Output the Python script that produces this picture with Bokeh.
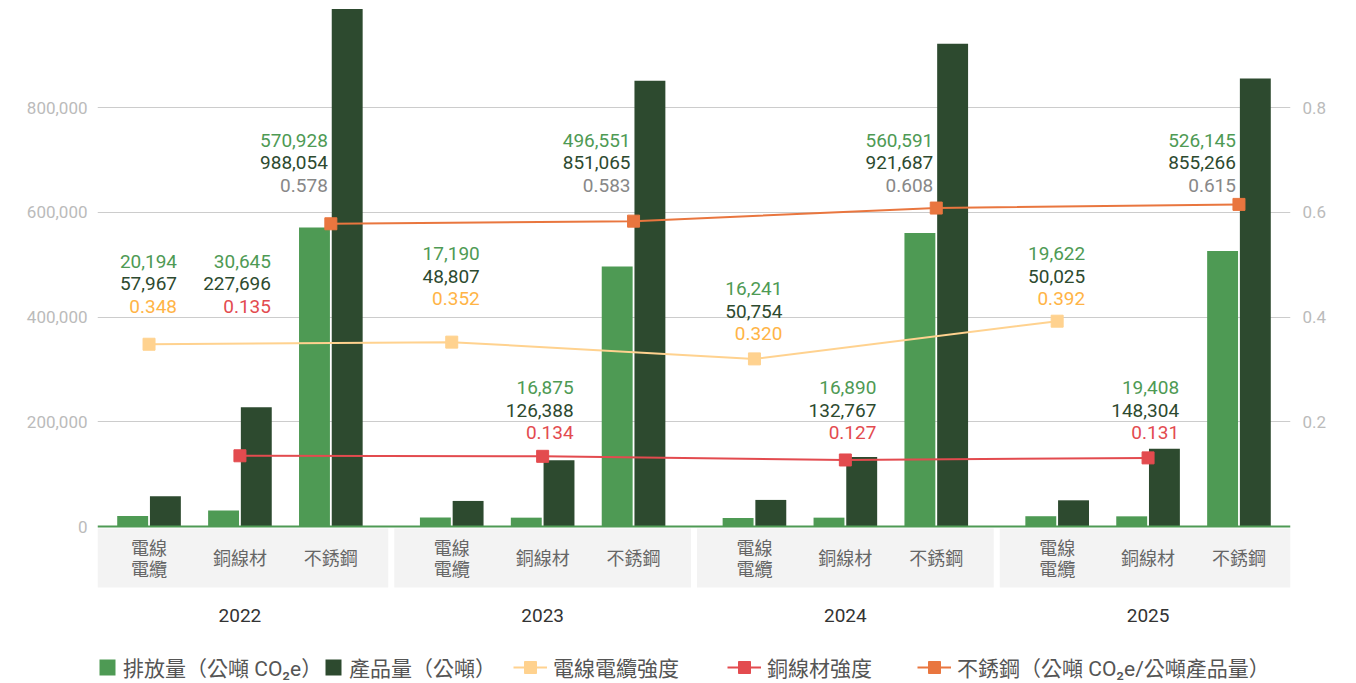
from bokeh.plotting import figure
from bokeh.models import (FactorRange, Range1d, LinearAxis, FixedTicker, NumeralTickFormatter,
                          ColumnDataSource, BoxAnnotation, Legend, LegendItem)
from bokeh.transform import dodge
from bokeh.core.properties import value
from bokeh.embed import file_html
from bokeh.resources import INLINE

# ---------------- data ----------------
years = ["2022", "2023", "2024", "2025"]
materials = ["電線電纜", "銅線材", "不銹鋼"]
material_labels = ["電線\n電纜", "銅線材", "不銹鋼"]

emissions_2022 = [20194, 30645, 570928]
emissions_2023 = [17190, 16875, 496551]
emissions_2024 = [16241, 16890, 560591]
emissions_2025 = [19622, 19408, 526145]

product_2022 = [57967, 227696, 988054]
product_2023 = [48807, 126388, 851065]
product_2024 = [50754, 132767, 921687]
product_2025 = [50025, 148304, 855266]

intensity_cable = [0.348, 0.352, 0.320, 0.392]
intensity_copper = [0.135, 0.134, 0.127, 0.131]
intensity_steel = [0.578, 0.583, 0.608, 0.615]

left_ticks = [0, 200000, 400000, 600000, 800000]
right_ticks = [0.2, 0.4, 0.6, 0.8]

legend_labels = ["排放量（公噸 CO₂e）", "產品量（公噸）", "電線電纜強度", "銅線材強度",
                 "不銹鋼（公噸 CO₂e/公噸產品量）"]

# ---------------- layout (annotation placement) ----------------
label_anchor = [506000, 506000, 737000,
                521000, 265000, 737000,
                454000, 265000, 737000,
                521000, 265000, 737000]
label_xoff = [28, 31, -3] * 4
legend_x = [0, 226, 416, 630, 820]

# ---------------- styles ----------------
GREEN = "#4E9A54"
DARK = "#2D4A2F"
CABLE_LINE = "#FFD28F"
CABLE_TXT = "#FFB446"
COPPER = "#E34B4F"
STEEL = "#E9763F"
STEEL_TXT = "#888888"
BOX = "#F3F3F3"

Y0, Y1 = -299760, 1004296
GP = 0.33

emissions = [emissions_2022, emissions_2023, emissions_2024, emissions_2025]
products = [product_2022, product_2023, product_2024, product_2025]
intens = [intensity_cable, intensity_copper, intensity_steel]

factors = [(y, m) for y in years for m in materials]
em_flat = [v for row in emissions for v in row]
pr_flat = [v for row in products for v in row]
in_flat = [intens[j][i] for i in range(len(years)) for j in range(len(materials))]
in_color = [CABLE_TXT, COPPER, STEEL_TXT] * len(years)

p = figure(width=1356, height=683, output_backend="svg", toolbar_location=None,
           x_range=FactorRange(*factors, group_padding=GP, factor_padding=0, range_padding=0.0103),
           y_range=Range1d(Y0, Y1), x_axis_location=None,
           min_border_left=97, min_border_right=66, min_border_top=0, min_border_bottom=0)
p.outline_line_color = None
p.background_fill_color = "white"
p.border_fill_color = "white"
p.extra_y_ranges = {"right": Range1d(Y0 / 1e6, Y1 / 1e6)}

# axes
ax = p.yaxis[0]
ax.ticker = FixedTicker(ticks=left_ticks)
ax.formatter = NumeralTickFormatter(format="0,0")
ra = LinearAxis(y_range_name="right", ticker=FixedTicker(ticks=right_ticks))
p.add_layout(ra, "right")
for a, so in ((ax, 10), (ra, 12)):
    a.axis_line_color = None
    a.major_tick_line_color = None
    a.minor_tick_line_color = None
    a.major_tick_out = 0
    a.major_tick_in = 0
    a.major_label_standoff = so
    a.major_label_text_color = "#BBBBBB"
    a.major_label_text_font = "Roboto"
    a.major_label_text_font_size = "17px"

p.xgrid.visible = False
p.ygrid.ticker = FixedTicker(ticks=left_ticks[1:])
p.ygrid.grid_line_color = "#CCCCCC"
p.ygrid.grid_line_width = 1

# group background boxes
bounds = [(k + 1) * 3 + k * GP + GP / 2 for k in range(len(years) - 1)]
half_gap = 0.033
for k in range(len(years)):
    kw = dict(top=-3800, bottom=-116500, fill_color=BOX, fill_alpha=1, line_color=None, level="underlay")
    if k > 0:
        kw["left"] = bounds[k - 1] + half_gap
    if k < len(years) - 1:
        kw["right"] = bounds[k] - half_gap
    p.add_layout(BoxAnnotation(**kw))

# bars
src = ColumnDataSource(dict(x=factors, emissions=em_flat, product=pr_flat))
r_em = p.vbar(x=dodge("x", -0.18, range=p.x_range), top="emissions", width=0.34, source=src,
              fill_color=GREEN, line_color=None)
r_pr = p.vbar(x=dodge("x", 0.18, range=p.x_range), top="product", width=0.34, source=src,
              fill_color=DARK, line_color=None)

# baseline
p.add_layout(BoxAnnotation(top=1900, bottom=-1900, fill_color=GREEN, fill_alpha=1, line_color=None))

# intensity lines
line_colors = [CABLE_LINE, COPPER, STEEL]
line_renderers = []
for j, m in enumerate(materials):
    s = ColumnDataSource(dict(x=[(y, m) for y in years], y=intens[j]))
    l = p.line("x", "y", source=s, y_range_name="right", line_color=line_colors[j], line_width=2)
    sc = p.scatter("x", "y", source=s, y_range_name="right", marker="square", size=12,
                   fill_color=line_colors[j], line_color=line_colors[j])
    line_renderers.append([l, sc])

# value labels
lab = ColumnDataSource(dict(
    x=factors, y=label_anchor, xoff=label_xoff,
    e=[f"{v:,}" for v in em_flat], pr=[f"{v:,}" for v in pr_flat],
    i=[f"{v:.3f}" for v in in_flat], ic=in_color))
common = dict(x="x", y="y", x_offset="xoff", source=lab, text_align="right", text_baseline="middle",
              text_font=value("Roboto"), text_font_size="19px")
p.text(text="e", y_offset=0, text_color=GREEN, **common)
p.text(text="pr", y_offset=22.5, text_color=DARK, **common)
p.text(text="i", y_offset=45, text_color="ic", **common)

# category labels
cat_src = ColumnDataSource(dict(x=factors, t=material_labels * len(years)))
p.text(x="x", y=-59000, text="t", source=cat_src, text_align="center", text_baseline="middle",
       text_font=value("Noto Sans CJK TC"), text_font_size="18px", text_color="#666666",
       text_line_height=0.81)
yr_src = ColumnDataSource(dict(x=[(y, materials[1]) for y in years], t=years))
p.text(x="x", y=-170000, text="t", source=yr_src, text_align="center", text_baseline="middle",
       text_font=value("Roboto"), text_font_size="19px", text_color="#333333")

# legends (one per item for exact placement)
renderer_sets = [[r_em], [r_pr]] + line_renderers
for k, lbl in enumerate(legend_labels):
    is_bar = k < 2
    lg = Legend(items=[LegendItem(label=lbl, renderers=renderer_sets[k])],
                location=(legend_x[k], 1),
                glyph_width=20 if is_bar else 34, glyph_height=20 if is_bar else 30)
    lg.orientation = "horizontal"
    lg.padding = 0
    lg.margin = 0
    lg.border_line_color = None
    lg.background_fill_alpha = 0
    lg.label_text_font = "Roboto, 'Noto Sans CJK TC'"
    lg.label_text_font_size = "21px"
    lg.label_text_color = "#555555"
    lg.label_standoff = 6
    p.add_layout(lg)

open("out.html", "w").write(file_html(p, INLINE))
